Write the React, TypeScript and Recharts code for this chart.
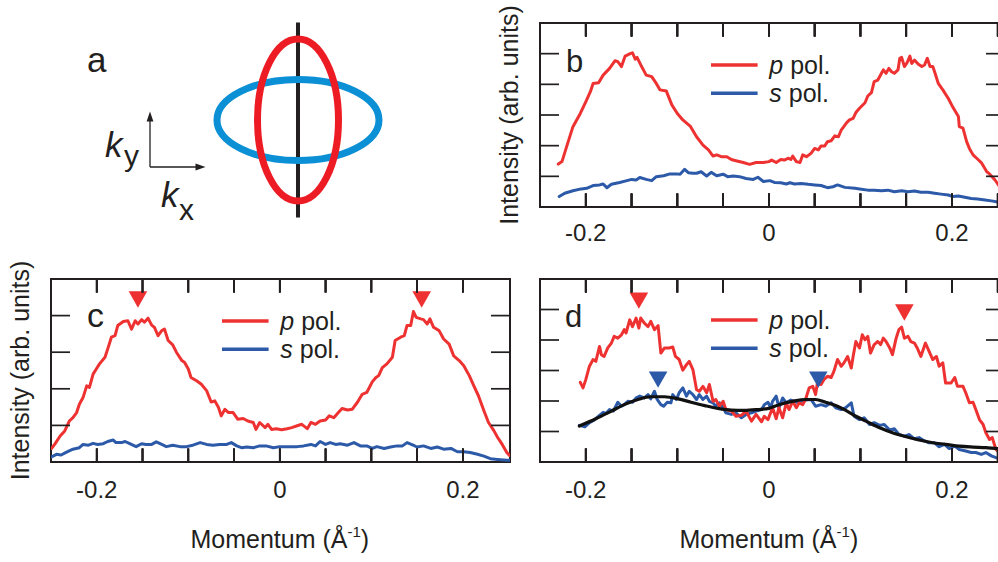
import React from 'react';
import { ComposedChart, Line, Scatter, XAxis, YAxis, Legend, ReferenceArea } from 'recharts';

type Pt = [number, number];

const FONT = '"Liberation Sans", Arial, Helvetica, sans-serif';
const INK = '#231f20';
const RED = '#ee3232';
const BLUE = '#2c5aa8';
const FIT = '#111111';
const SCH_RED = '#ed1c24';
const SCH_BLUE = '#0b8fd5';

// ---------------- tick values ----------------
const xLabelTicks = [-0.2, 0, 0.2];
const xMinorTicksWide = [-0.2, -0.15, -0.1, -0.05, 0, 0.05, 0.1, 0.15, 0.2, 0.25];
const xMinorTicksC = [-0.2, -0.15, -0.1, -0.05, 0, 0.05, 0.1, 0.15, 0.2];
const yTicksBD = [1, 2, 3, 4, 5];
const yTicksC = [1, 2, 3, 4];
const legendLetters = ['p', 's'];

// ---------------- panel a (schematic Fermi surfaces) ----------------
const sBand = [{ kx: 0, ky: 0, ax: 0.2, ay: 0.1 }];
const pBand = [{ kx: 0, ky: 0, ax: 0.1, ay: 0.2 }];
const cutLine = [{ kx: 0, ky: -0.241 }, { kx: 0, ky: 0.241 }];

// ---------------- panel b ----------------
const bPpol: Pt[] = [
  [-0.230, 1.40], [-0.226, 1.48], [-0.221, 1.96], [-0.214, 2.62], [-0.206, 3.05], [-0.200, 3.43], [-0.195, 3.76],
  [-0.192, 4.03], [-0.186, 4.05], [-0.181, 4.30], [-0.174, 4.52], [-0.168, 4.77], [-0.165, 4.74], [-0.161, 4.58],
  [-0.157, 4.92], [-0.152, 4.99], [-0.149, 5.03], [-0.146, 4.82], [-0.144, 4.88], [-0.139, 4.58], [-0.134, 4.30],
  [-0.128, 4.25], [-0.123, 4.03], [-0.119, 3.82], [-0.112, 3.78], [-0.106, 3.33], [-0.100, 3.05], [-0.094, 2.84],
  [-0.086, 2.64], [-0.079, 2.29], [-0.072, 2.02], [-0.066, 1.86], [-0.061, 1.66], [-0.057, 1.70], [-0.052, 1.64],
  [-0.046, 1.64], [-0.041, 1.55], [-0.036, 1.51], [-0.028, 1.45], [-0.021, 1.39], [-0.014, 1.45], [-0.006, 1.45],
  [0.000, 1.48], [0.003, 1.53], [0.008, 1.45], [0.013, 1.55], [0.017, 1.53], [0.021, 1.59], [0.024, 1.55],
  [0.026, 1.66], [0.030, 1.48], [0.034, 1.45], [0.037, 1.70], [0.041, 1.64], [0.046, 1.75], [0.050, 1.91],
  [0.054, 1.86], [0.057, 1.99], [0.061, 1.99], [0.064, 2.13], [0.068, 2.16], [0.072, 2.32], [0.076, 2.29],
  [0.079, 2.51], [0.085, 2.75], [0.088, 2.84], [0.092, 2.89], [0.095, 3.08], [0.099, 3.22], [0.105, 3.40],
  [0.108, 3.62], [0.112, 3.73], [0.115, 4.09], [0.119, 4.14], [0.123, 4.36], [0.125, 4.47], [0.128, 4.36],
  [0.131, 4.52], [0.134, 4.41], [0.137, 4.36], [0.141, 4.47], [0.143, 4.85], [0.145, 4.88], [0.148, 4.58],
  [0.151, 4.71], [0.154, 4.92], [0.156, 4.68], [0.159, 4.79], [0.163, 4.66], [0.167, 4.58], [0.170, 4.63],
  [0.173, 4.85], [0.176, 4.58], [0.179, 4.58], [0.181, 4.41], [0.185, 4.03], [0.190, 3.82], [0.196, 3.54],
  [0.201, 3.25], [0.207, 2.95], [0.208, 2.62], [0.212, 2.57], [0.216, 2.13], [0.219, 1.91], [0.223, 1.70],
  [0.227, 1.59], [0.232, 1.45], [0.238, 1.15], [0.241, 1.08], [0.247, 0.88], [0.250, 0.75], [0.253, 0.62],
];
const bSpol: Pt[] = [
  [-0.229, 0.34], [-0.223, 0.45], [-0.214, 0.53], [-0.205, 0.59], [-0.199, 0.61], [-0.192, 0.70], [-0.185, 0.72],
  [-0.181, 0.75], [-0.177, 0.63], [-0.172, 0.74], [-0.163, 0.80], [-0.155, 0.86], [-0.150, 0.90], [-0.145, 0.88],
  [-0.141, 0.96], [-0.134, 0.90], [-0.128, 0.86], [-0.123, 0.99], [-0.115, 1.02], [-0.108, 1.08], [-0.101, 1.08],
  [-0.097, 1.07], [-0.092, 1.23], [-0.088, 1.12], [-0.083, 1.10], [-0.079, 1.10], [-0.074, 1.15], [-0.068, 1.01],
  [-0.063, 1.13], [-0.057, 1.02], [-0.050, 1.07], [-0.045, 0.99], [-0.039, 1.01], [-0.032, 0.99], [-0.025, 0.93],
  [-0.017, 0.90], [-0.012, 0.97], [-0.006, 0.83], [0.001, 0.86], [0.006, 0.80], [0.013, 0.79], [0.019, 0.75],
  [0.023, 0.79], [0.028, 0.75], [0.035, 0.77], [0.043, 0.74], [0.050, 0.72], [0.057, 0.70], [0.064, 0.63],
  [0.070, 0.66], [0.075, 0.72], [0.083, 0.64], [0.094, 0.61], [0.101, 0.58], [0.108, 0.55], [0.115, 0.55],
  [0.123, 0.53], [0.130, 0.55], [0.137, 0.50], [0.145, 0.53], [0.152, 0.50], [0.159, 0.52], [0.166, 0.48],
  [0.174, 0.48], [0.181, 0.45], [0.188, 0.42], [0.196, 0.39], [0.201, 0.34], [0.207, 0.36], [0.214, 0.32],
  [0.221, 0.28], [0.228, 0.26], [0.236, 0.23], [0.243, 0.20], [0.250, 0.16], [0.254, 0.14],
];

// ---------------- panel c ----------------
const cPpol: Pt[] = [
  [-0.2495, 0.37], [-0.246, 0.48], [-0.240, 0.71], [-0.235, 0.85], [-0.230, 1.12], [-0.226, 1.21], [-0.222, 1.35],
  [-0.219, 1.58], [-0.215, 1.76], [-0.211, 2.08], [-0.208, 2.04], [-0.204, 2.40], [-0.200, 2.56], [-0.197, 2.68],
  [-0.191, 2.86], [-0.188, 3.09], [-0.184, 3.41], [-0.180, 3.45], [-0.177, 3.73], [-0.171, 3.84], [-0.166, 3.86],
  [-0.162, 3.63], [-0.158, 3.86], [-0.155, 3.77], [-0.151, 3.89], [-0.148, 3.82], [-0.144, 3.93], [-0.140, 3.74],
  [-0.137, 3.68], [-0.133, 3.45], [-0.129, 3.59], [-0.126, 3.63], [-0.122, 3.32], [-0.117, 3.20], [-0.113, 3.00],
  [-0.107, 2.77], [-0.104, 2.72], [-0.100, 2.54], [-0.097, 2.31], [-0.091, 2.22], [-0.086, 2.13], [-0.080, 1.95],
  [-0.075, 1.64], [-0.071, 1.67], [-0.067, 1.49], [-0.064, 1.26], [-0.060, 1.44], [-0.056, 1.35], [-0.051, 1.35],
  [-0.046, 1.17], [-0.040, 1.19], [-0.035, 1.12], [-0.029, 1.08], [-0.026, 0.89], [-0.022, 1.08], [-0.016, 0.94],
  [-0.013, 1.03], [-0.009, 0.89], [-0.004, 0.91], [0.002, 0.88], [0.008, 0.91], [0.013, 0.94], [0.019, 0.99],
  [0.024, 1.03], [0.030, 0.91], [0.034, 1.08], [0.039, 1.03], [0.044, 1.12], [0.050, 1.15], [0.054, 1.26],
  [0.059, 1.21], [0.064, 1.35], [0.068, 1.46], [0.074, 1.42], [0.079, 1.44], [0.085, 1.64], [0.090, 1.85],
  [0.095, 1.90], [0.101, 2.19], [0.105, 2.31], [0.108, 2.36], [0.112, 2.58], [0.117, 2.68], [0.123, 2.86],
  [0.126, 3.32], [0.132, 3.41], [0.136, 3.45], [0.139, 3.73], [0.143, 3.73], [0.146, 4.11], [0.149, 3.95],
  [0.154, 3.91], [0.157, 3.89], [0.161, 3.77], [0.164, 3.91], [0.168, 3.68], [0.174, 3.59], [0.179, 3.36],
  [0.185, 3.22], [0.190, 2.90], [0.196, 2.77], [0.201, 2.63], [0.207, 2.36], [0.212, 2.08], [0.217, 1.81],
  [0.223, 1.40], [0.228, 1.08], [0.234, 0.85], [0.238, 0.67], [0.243, 0.48], [0.248, 0.26], [0.251, 0.18],
];
const cSpol: Pt[] = [
  [-0.2495, 0.14], [-0.244, 0.21], [-0.239, 0.19], [-0.233, 0.27], [-0.226, 0.35], [-0.219, 0.39], [-0.215, 0.48],
  [-0.209, 0.46], [-0.204, 0.51], [-0.199, 0.48], [-0.193, 0.50], [-0.188, 0.56], [-0.182, 0.60], [-0.179, 0.53],
  [-0.173, 0.53], [-0.169, 0.56], [-0.164, 0.50], [-0.157, 0.42], [-0.151, 0.50], [-0.146, 0.48], [-0.140, 0.48],
  [-0.135, 0.55], [-0.129, 0.48], [-0.124, 0.42], [-0.117, 0.46], [-0.109, 0.42], [-0.102, 0.42], [-0.095, 0.46],
  [-0.087, 0.53], [-0.080, 0.48], [-0.073, 0.46], [-0.066, 0.48], [-0.058, 0.48], [-0.053, 0.53], [-0.047, 0.44],
  [-0.042, 0.39], [-0.036, 0.41], [-0.029, 0.39], [-0.022, 0.44], [-0.015, 0.44], [-0.007, 0.39], [0.000, 0.42],
  [0.004, 0.42], [0.012, 0.42], [0.019, 0.42], [0.026, 0.44], [0.034, 0.48], [0.039, 0.44], [0.044, 0.56],
  [0.050, 0.48], [0.055, 0.53], [0.061, 0.48], [0.066, 0.50], [0.074, 0.46], [0.081, 0.53], [0.088, 0.44],
  [0.095, 0.44], [0.101, 0.37], [0.106, 0.42], [0.114, 0.37], [0.121, 0.41], [0.128, 0.44], [0.134, 0.44],
  [0.139, 0.53], [0.145, 0.47], [0.150, 0.41], [0.157, 0.44], [0.165, 0.37], [0.172, 0.41], [0.179, 0.35],
  [0.187, 0.37], [0.194, 0.28], [0.201, 0.28], [0.208, 0.26], [0.216, 0.21], [0.223, 0.16], [0.230, 0.09],
  [0.238, 0.07], [0.248, 0.05], [0.251, 0.05],
];
const cMarkers: Pt[] = [[-0.155, 4.44], [0.155, 4.44]];

// ---------------- panel d ----------------
const dPpol: Pt[] = [
  [-0.206, 2.61], [-0.203, 2.43], [-0.200, 2.70], [-0.196, 3.14], [-0.192, 3.36], [-0.189, 3.30], [-0.185, 3.79],
  [-0.183, 3.52], [-0.180, 3.46], [-0.176, 3.74], [-0.172, 3.90], [-0.169, 4.12], [-0.165, 4.06], [-0.161, 4.17],
  [-0.158, 4.34], [-0.156, 4.23], [-0.152, 4.66], [-0.149, 4.44], [-0.145, 4.72], [-0.142, 4.39], [-0.140, 4.72],
  [-0.136, 4.55], [-0.132, 4.44], [-0.129, 4.61], [-0.125, 4.34], [-0.121, 4.47], [-0.118, 3.57], [-0.114, 3.74],
  [-0.109, 3.74], [-0.105, 3.77], [-0.102, 3.46], [-0.098, 3.36], [-0.094, 3.01], [-0.090, 3.19], [-0.087, 3.30],
  [-0.083, 3.03], [-0.079, 2.37], [-0.076, 2.32], [-0.072, 2.48], [-0.068, 2.27], [-0.065, 2.54], [-0.061, 1.99],
  [-0.058, 2.05], [-0.054, 1.83], [-0.050, 1.99], [-0.047, 1.72], [-0.041, 1.67], [-0.036, 1.50], [-0.030, 1.53],
  [-0.025, 1.67], [-0.019, 1.34], [-0.014, 1.56], [-0.008, 1.32], [-0.005, 1.50], [-0.001, 1.39], [0.004, 1.78],
  [0.008, 1.42], [0.011, 1.78], [0.015, 1.45], [0.019, 1.94], [0.022, 1.72], [0.026, 1.99], [0.030, 1.78],
  [0.033, 1.94], [0.037, 1.88], [0.040, 2.05], [0.044, 2.43], [0.048, 2.48], [0.051, 2.21], [0.053, 2.59],
  [0.057, 2.54], [0.060, 2.70], [0.064, 2.81], [0.068, 2.77], [0.071, 2.97], [0.075, 3.36], [0.079, 3.14],
  [0.082, 3.25], [0.086, 3.46], [0.090, 3.08], [0.092, 3.46], [0.095, 3.95], [0.099, 3.74], [0.102, 4.17],
  [0.105, 4.01], [0.108, 4.12], [0.111, 3.57], [0.115, 3.85], [0.119, 3.95], [0.122, 3.85], [0.125, 4.06],
  [0.128, 3.95], [0.132, 3.74], [0.135, 3.52], [0.139, 4.06], [0.142, 4.34], [0.145, 4.42], [0.148, 4.06],
  [0.152, 4.12], [0.155, 3.95], [0.159, 3.90], [0.162, 3.74], [0.166, 3.46], [0.171, 3.90], [0.175, 3.63],
  [0.179, 3.36], [0.183, 3.46], [0.186, 3.14], [0.190, 3.25], [0.193, 2.59], [0.199, 2.59], [0.203, 2.77],
  [0.206, 2.48], [0.212, 2.48], [0.215, 2.27], [0.219, 1.94], [0.223, 1.96], [0.226, 1.72], [0.230, 1.39],
  [0.234, 1.23], [0.237, 0.96], [0.241, 0.74], [0.244, 0.80], [0.248, 0.41], [0.252, 0.30],
];
const dSpol: Pt[] = [
  [-0.207, 1.20], [-0.201, 1.15], [-0.196, 1.29], [-0.191, 1.37], [-0.185, 1.53], [-0.181, 1.63], [-0.178, 1.59],
  [-0.174, 1.72], [-0.170, 1.67], [-0.165, 1.96], [-0.161, 1.83], [-0.158, 1.88], [-0.154, 1.99], [-0.149, 1.96],
  [-0.145, 2.10], [-0.141, 2.16], [-0.136, 2.10], [-0.132, 2.21], [-0.129, 2.07], [-0.125, 2.32], [-0.122, 2.05],
  [-0.118, 1.88], [-0.115, 1.83], [-0.111, 1.96], [-0.107, 1.94], [-0.105, 2.21], [-0.101, 2.05], [-0.098, 2.27],
  [-0.094, 2.43], [-0.090, 2.16], [-0.087, 2.32], [-0.083, 2.21], [-0.079, 2.05], [-0.076, 2.21], [-0.072, 2.05],
  [-0.068, 2.16], [-0.065, 1.99], [-0.061, 1.94], [-0.058, 1.83], [-0.054, 1.94], [-0.050, 1.78], [-0.047, 1.61],
  [-0.041, 1.56], [-0.036, 1.61], [-0.030, 1.45], [-0.025, 1.56], [-0.019, 1.61], [-0.014, 1.67], [-0.008, 1.72],
  [-0.005, 1.88], [-0.001, 1.96], [0.002, 1.78], [0.004, 1.99], [0.008, 2.16], [0.011, 1.78], [0.015, 2.10],
  [0.019, 1.94], [0.024, 2.03], [0.030, 1.96], [0.035, 1.99], [0.040, 2.03], [0.046, 2.05], [0.051, 1.83],
  [0.057, 1.88], [0.062, 1.83], [0.068, 1.94], [0.073, 1.78], [0.079, 1.72], [0.084, 1.78], [0.090, 1.94],
  [0.093, 1.50], [0.099, 1.39], [0.104, 1.45], [0.110, 1.23], [0.115, 1.29], [0.121, 1.20], [0.126, 1.23],
  [0.132, 1.05], [0.137, 1.09], [0.142, 0.90], [0.148, 0.85], [0.153, 0.90], [0.159, 0.76], [0.164, 0.80],
  [0.170, 0.69], [0.175, 0.63], [0.181, 0.63], [0.186, 0.50], [0.192, 0.58], [0.197, 0.44], [0.203, 0.52],
  [0.208, 0.41], [0.215, 0.36], [0.221, 0.31], [0.226, 0.31], [0.232, 0.25], [0.237, 0.31], [0.243, 0.20],
  [0.248, 0.14], [0.252, 0.12],
];
const dFit: Pt[] = [
  [-0.207, 1.18], [-0.189, 1.42], [-0.172, 1.67], [-0.158, 1.88], [-0.143, 2.05], [-0.129, 2.14], [-0.114, 2.14],
  [-0.099, 2.07], [-0.085, 1.96], [-0.070, 1.85], [-0.056, 1.76], [-0.041, 1.70], [-0.027, 1.69], [-0.012, 1.72],
  [0.000, 1.76], [0.011, 1.88], [0.026, 1.99], [0.040, 2.05], [0.051, 2.05], [0.062, 1.96], [0.073, 1.85],
  [0.084, 1.69], [0.095, 1.50], [0.106, 1.34], [0.121, 1.12], [0.135, 0.96], [0.150, 0.83], [0.164, 0.72],
  [0.179, 0.63], [0.193, 0.58], [0.208, 0.52], [0.223, 0.49], [0.237, 0.47], [0.250, 0.44], [0.258, 0.43],
];
const dRedMarkers: Pt[] = [[-0.142, 5.29], [0.148, 4.90]];
const dBlueMarkers: Pt[] = [[-0.121, 2.70], [0.054, 2.70]];

// ---------------- helpers ----------------
const toXY = (pts: Pt[]) => pts.map(([x, y]) => ({ x, y }));
const fmtX = (v: number) => (Math.abs(v) < 1e-9 ? '0' : v.toFixed(1));
const isLabelTick = (v: number) => xLabelTicks.some((t) => Math.abs(t - v) < 1e-9);

const X_TICK_LEN = 13.5;
const Y_TICK_LEN = 19;
const TICK_W = 1.7;

const DownTriangle = (props: any) => {
  const { cx, cy, fill } = props;
  if (typeof cx !== 'number' || typeof cy !== 'number') return <g />;
  return <polygon points={`${cx - 9.3},${cy - 8.2} ${cx + 9.3},${cy - 8.2} ${cx},${cy + 8.2}`} fill={fill} />;
};

type SeriesDef = { key: string; name: string; letter?: string; data: Pt[]; color: string; width: number; smooth?: boolean };
type MarkerDef = { key: string; data: Pt[]; color: string };

interface PanelProps {
  left: number; top: number; width: number; height: number;
  mTop: number; mLeft: number; mRight: number; labelH: number;
  xDomain: [number, number]; minorTicks: number[];
  yDomain: [number, number]; yTicks: number[];
  tickGap: number; xTitle: boolean; yTitle: boolean;
  series: SeriesDef[]; markers: MarkerDef[];
  legend: { left: number; top: number };
}

function Panel(p: PanelProps) {
  const plotH = p.height - p.mTop - p.labelH;
  const plotW = p.width - p.mLeft - p.mRight;
  const plotBottom = p.mTop + plotH;
  const plotRight = p.mLeft + plotW;
  const zeroFrac = (0 - p.xDomain[0]) / (p.xDomain[1] - p.xDomain[0]);
  const xPix = (t: number) => p.mLeft + ((t - p.xDomain[0]) / (p.xDomain[1] - p.xDomain[0])) * plotW;

  // tick labels along the bottom
  const xTick = (props: any) => {
    const x = props.x;
    const v = props.payload ? props.payload.value : 0;
    if (!isLabelTick(v)) return <g />;
    return (
      <text x={x} y={plotBottom + p.tickGap + 17.2} textAnchor="middle" fontFamily={FONT} fontSize={24} fill={INK}>
        {fmtX(v)}
      </text>
    );
  };

  // inward ticks on all four sides (x ticks redrawn identically with each y tick)
  const yTick = (props: any) => {
    const y = props.y;
    return (
      <g>
        <rect x={p.mLeft} y={y - TICK_W / 2} width={Y_TICK_LEN} height={TICK_W} fill={INK} />
        <rect x={plotRight - Y_TICK_LEN} y={y - TICK_W / 2} width={Y_TICK_LEN} height={TICK_W} fill={INK} />
        {p.minorTicks.map((t) => (
          <g key={`xt${t}`}>
            <rect x={xPix(t) - TICK_W / 2} y={plotBottom - X_TICK_LEN} width={TICK_W} height={X_TICK_LEN} fill={INK} />
            <rect x={xPix(t) - TICK_W / 2} y={p.mTop} width={TICK_W} height={X_TICK_LEN} fill={INK} />
          </g>
        ))}
      </g>
    );
  };

  const yTitle = (props: any) => {
    const vb = props && props.viewBox && typeof props.viewBox.x === 'number' && typeof props.viewBox.height === 'number'
      ? props.viewBox : { x: p.mLeft, y: p.mTop, width: 20, height: plotH };
    const cx = vb.x - 22;
    const cy = vb.y + vb.height / 2;
    return (
      <text x={cx} y={cy} transform={`rotate(-90 ${cx} ${cy})`} textAnchor="middle" fontFamily={FONT} fontSize={25} fill={INK}>
        Intensity (arb. units)
      </text>
    );
  };

  const xTitle = (props: any) => {
    const vb = props && props.viewBox && typeof props.viewBox.x === 'number' && typeof props.viewBox.width === 'number'
      ? props.viewBox : { x: p.mLeft, y: plotBottom, width: plotW, height: p.labelH };
    const cx = vb.x + zeroFrac * vb.width;
    const by = vb.y + 86;
    return (
      <text x={cx} y={by} textAnchor="middle" fontFamily={FONT} fontSize={25} fill={INK}>
        Momentum (Å<tspan dy={-11} fontSize={15}>-1</tspan><tspan dy={11}>)</tspan>
      </text>
    );
  };

  const legendSeries = legendLetters
    .map((l) => p.series.find((s) => s.letter === l))
    .filter((s): s is SeriesDef => !!s);
  const legendContent = () => (
    <svg width={170} height={64} style={{ display: 'block', overflow: 'visible' }}>
      {legendSeries.map((s, i) => (
        <g key={s.key}>
          <line x1={0} x2={46.6} y1={15 + i * 28.3} y2={15 + i * 28.3} stroke={s.color} strokeWidth={3.6} />
          <text x={58.3} y={24 + i * 28.3} fontFamily={FONT} fontSize={25} fill={INK}>
            <tspan fontStyle="italic">{s.letter}</tspan>
            {' pol.'}
          </text>
        </g>
      ))}
    </svg>
  );

  return (
    <div style={{ position: 'absolute', left: p.left, top: p.top }}>
      <ComposedChart width={p.width} height={p.height} margin={{ top: p.mTop, left: p.mLeft, right: p.mRight, bottom: 0 }}>
        <XAxis
          xAxisId="lab" type="number" dataKey="x" domain={p.xDomain} allowDataOverflow
          orientation="bottom" height={p.labelH} ticks={p.minorTicks} interval={0}
          tickLine={false} axisLine={false} tickSize={0} tickMargin={p.tickGap}
          tick={xTick} label={p.xTitle ? xTitle : undefined}
        />
        <YAxis
          yAxisId="l" type="number" dataKey="y" domain={p.yDomain} allowDataOverflow
          orientation="left" mirror width={20} ticks={p.yTicks} interval={0}
          tickLine={false} axisLine={false} tick={yTick} label={p.yTitle ? yTitle : undefined}
        />
        <ReferenceArea
          xAxisId="lab" yAxisId="l" x1={p.xDomain[0]} x2={p.xDomain[1]} y1={p.yDomain[0]} y2={p.yDomain[1]}
          fill="none" fillOpacity={0} stroke={INK} strokeWidth={2} ifOverflow="visible"
        />
        <Legend
          layout="vertical" align="center" verticalAlign="middle" content={legendContent}
          wrapperStyle={{ left: p.legend.left, top: p.legend.top, width: 170, height: 64, lineHeight: 0 }}
        />
        {p.series.map((s) => (
          <Line
            key={s.key} xAxisId="lab" yAxisId="l" data={toXY(s.data)} dataKey="y" name={s.name}
            type={s.smooth ? 'monotone' : 'linear'} stroke={s.color} strokeWidth={s.width}
            strokeLinejoin="round" strokeLinecap="round" dot={false} activeDot={false} isAnimationActive={false}
          />
        ))}
        {p.markers.map((m) => (
          <Scatter
            key={m.key} xAxisId="lab" yAxisId="l" data={toXY(m.data)} fill={m.color}
            shape={DownTriangle} isAnimationActive={false} legendType="none"
          />
        ))}
      </ComposedChart>
    </div>
  );
}

// ---------------- panel a ----------------
const A_W = 500;
const A_H = 250;
const A_XDOM: [number, number] = [-0.7358, 0.4988];
const A_YDOM: [number, number] = [-0.321, 0.2963];
const A_PXU = A_W / (A_XDOM[1] - A_XDOM[0]);

const makeEllipse = (color: string) => (props: any) => {
  const { cx, cy, payload } = props;
  if (typeof cx !== 'number' || typeof cy !== 'number') return <g />;
  const ax = payload && typeof payload.ax === 'number' ? payload.ax : 0.15;
  const ay = payload && typeof payload.ay === 'number' ? payload.ay : 0.15;
  return <ellipse cx={cx} cy={cy} rx={ax * A_PXU} ry={ay * A_PXU} fill="none" stroke={color} strokeWidth={7} />;
};

function PanelA() {
  return (
    <div style={{ position: 'absolute', left: 0, top: 0 }}>
      <ComposedChart width={A_W} height={A_H} margin={{ top: 0, right: 0, bottom: 0, left: 0 }}>
        <XAxis xAxisId="k" type="number" dataKey="kx" domain={A_XDOM} allowDataOverflow hide />
        <YAxis yAxisId="k" type="number" dataKey="ky" domain={A_YDOM} allowDataOverflow hide />
        <Scatter xAxisId="k" yAxisId="k" data={sBand} shape={makeEllipse(SCH_BLUE)} isAnimationActive={false} />
        <Scatter xAxisId="k" yAxisId="k" data={pBand} shape={makeEllipse(SCH_RED)} isAnimationActive={false} />
        <Line
          xAxisId="k" yAxisId="k" data={cutLine} dataKey="ky" stroke={INK} strokeWidth={4}
          dot={false} activeDot={false} isAnimationActive={false}
        />
      </ComposedChart>
    </div>
  );
}

// ---------------- panel configs ----------------
const panelB: PanelProps = {
  left: 470, top: 0, width: 540, height: 260, mTop: 23, mLeft: 70, mRight: 5, labelH: 53,
  xDomain: [-0.25, 0.2579], minorTicks: xMinorTicksWide, yDomain: [0, 6], yTicks: yTicksBD,
  tickGap: 17, xTitle: false, yTitle: true,
  series: [
    { key: 'bs', name: 's pol.', letter: 's', data: bSpol, color: BLUE, width: 3 },
    { key: 'bp', name: 'p pol.', letter: 'p', data: bPpol, color: RED, width: 3 },
  ],
  markers: [],
  legend: { left: 240.7, top: 50 },
};

const panelC: PanelProps = {
  left: 0, top: 250, width: 520, height: 312, mTop: 29, mLeft: 51, mRight: 10, labelH: 100,
  xDomain: [-0.25, 0.2515], minorTicks: xMinorTicksC, yDomain: [0, 5], yTicks: yTicksC,
  tickGap: 18.7, xTitle: true, yTitle: true,
  series: [
    { key: 'cs', name: 's pol.', letter: 's', data: cSpol, color: BLUE, width: 3 },
    { key: 'cp', name: 'p pol.', letter: 'p', data: cPpol, color: RED, width: 3 },
  ],
  markers: [{ key: 'cm', data: cMarkers, color: RED }],
  legend: { left: 221.7, top: 55.7 },
};

const panelD: PanelProps = {
  left: 500, top: 250, width: 510, height: 312, mTop: 29, mLeft: 40, mRight: 5, labelH: 100,
  xDomain: [-0.25, 0.2579], minorTicks: xMinorTicksWide, yDomain: [0, 6], yTicks: yTicksBD,
  tickGap: 18.7, xTitle: true, yTitle: false,
  series: [
    { key: 'ds', name: 's pol.', letter: 's', data: dSpol, color: BLUE, width: 3 },
    { key: 'dp', name: 'p pol.', letter: 'p', data: dPpol, color: RED, width: 3 },
    { key: 'df', name: 'fit', data: dFit, color: FIT, width: 3.2, smooth: true },
  ],
  markers: [
    { key: 'dmr', data: dRedMarkers, color: RED },
    { key: 'dmb', data: dBlueMarkers, color: BLUE },
  ],
  legend: { left: 210.7, top: 55 },
};

function Overlay() {
  const t = { fontFamily: FONT, fill: INK };
  return (
    <svg width={998} height={562} style={{ position: 'absolute', left: 0, top: 0, pointerEvents: 'none' }}>
      <text x={87} y={72} fontSize={35} {...t}>a</text>
      <text x={566} y={72} fontSize={31} {...t}>b</text>
      <text x={87} y={327} fontSize={34} {...t}>c</text>
      <text x={565} y={327} fontSize={31} {...t}>d</text>
      {/* k-space axes */}
      <line x1={150} y1={167} x2={150} y2={119} stroke={INK} strokeWidth={1.3} />
      <polygon points="150,111.5 146.6,121.5 153.4,121.5" fill={INK} />
      <line x1={150} y1={167} x2={198} y2={167} stroke={INK} strokeWidth={1.3} />
      <polygon points="205.5,167 195.5,163.6 195.5,170.4" fill={INK} />
      <text x={105} y={157} fontSize={35} fontStyle="italic" {...t}>k</text>
      <text x={124} y={166} fontSize={30} {...t}>y</text>
      <text x={161} y={206.5} fontSize={35} fontStyle="italic" {...t}>k</text>
      <text x={179} y={220} fontSize={30} {...t}>x</text>
    </svg>
  );
}

export default function App() {
  return (
    <div style={{ position: 'fixed', left: 0, top: 0, width: 998, height: 562, overflow: 'hidden', background: '#ffffff' }}>
      <PanelA />
      <Panel {...panelB} />
      <Panel {...panelC} />
      <Panel {...panelD} />
      <Overlay />
    </div>
  );
}
